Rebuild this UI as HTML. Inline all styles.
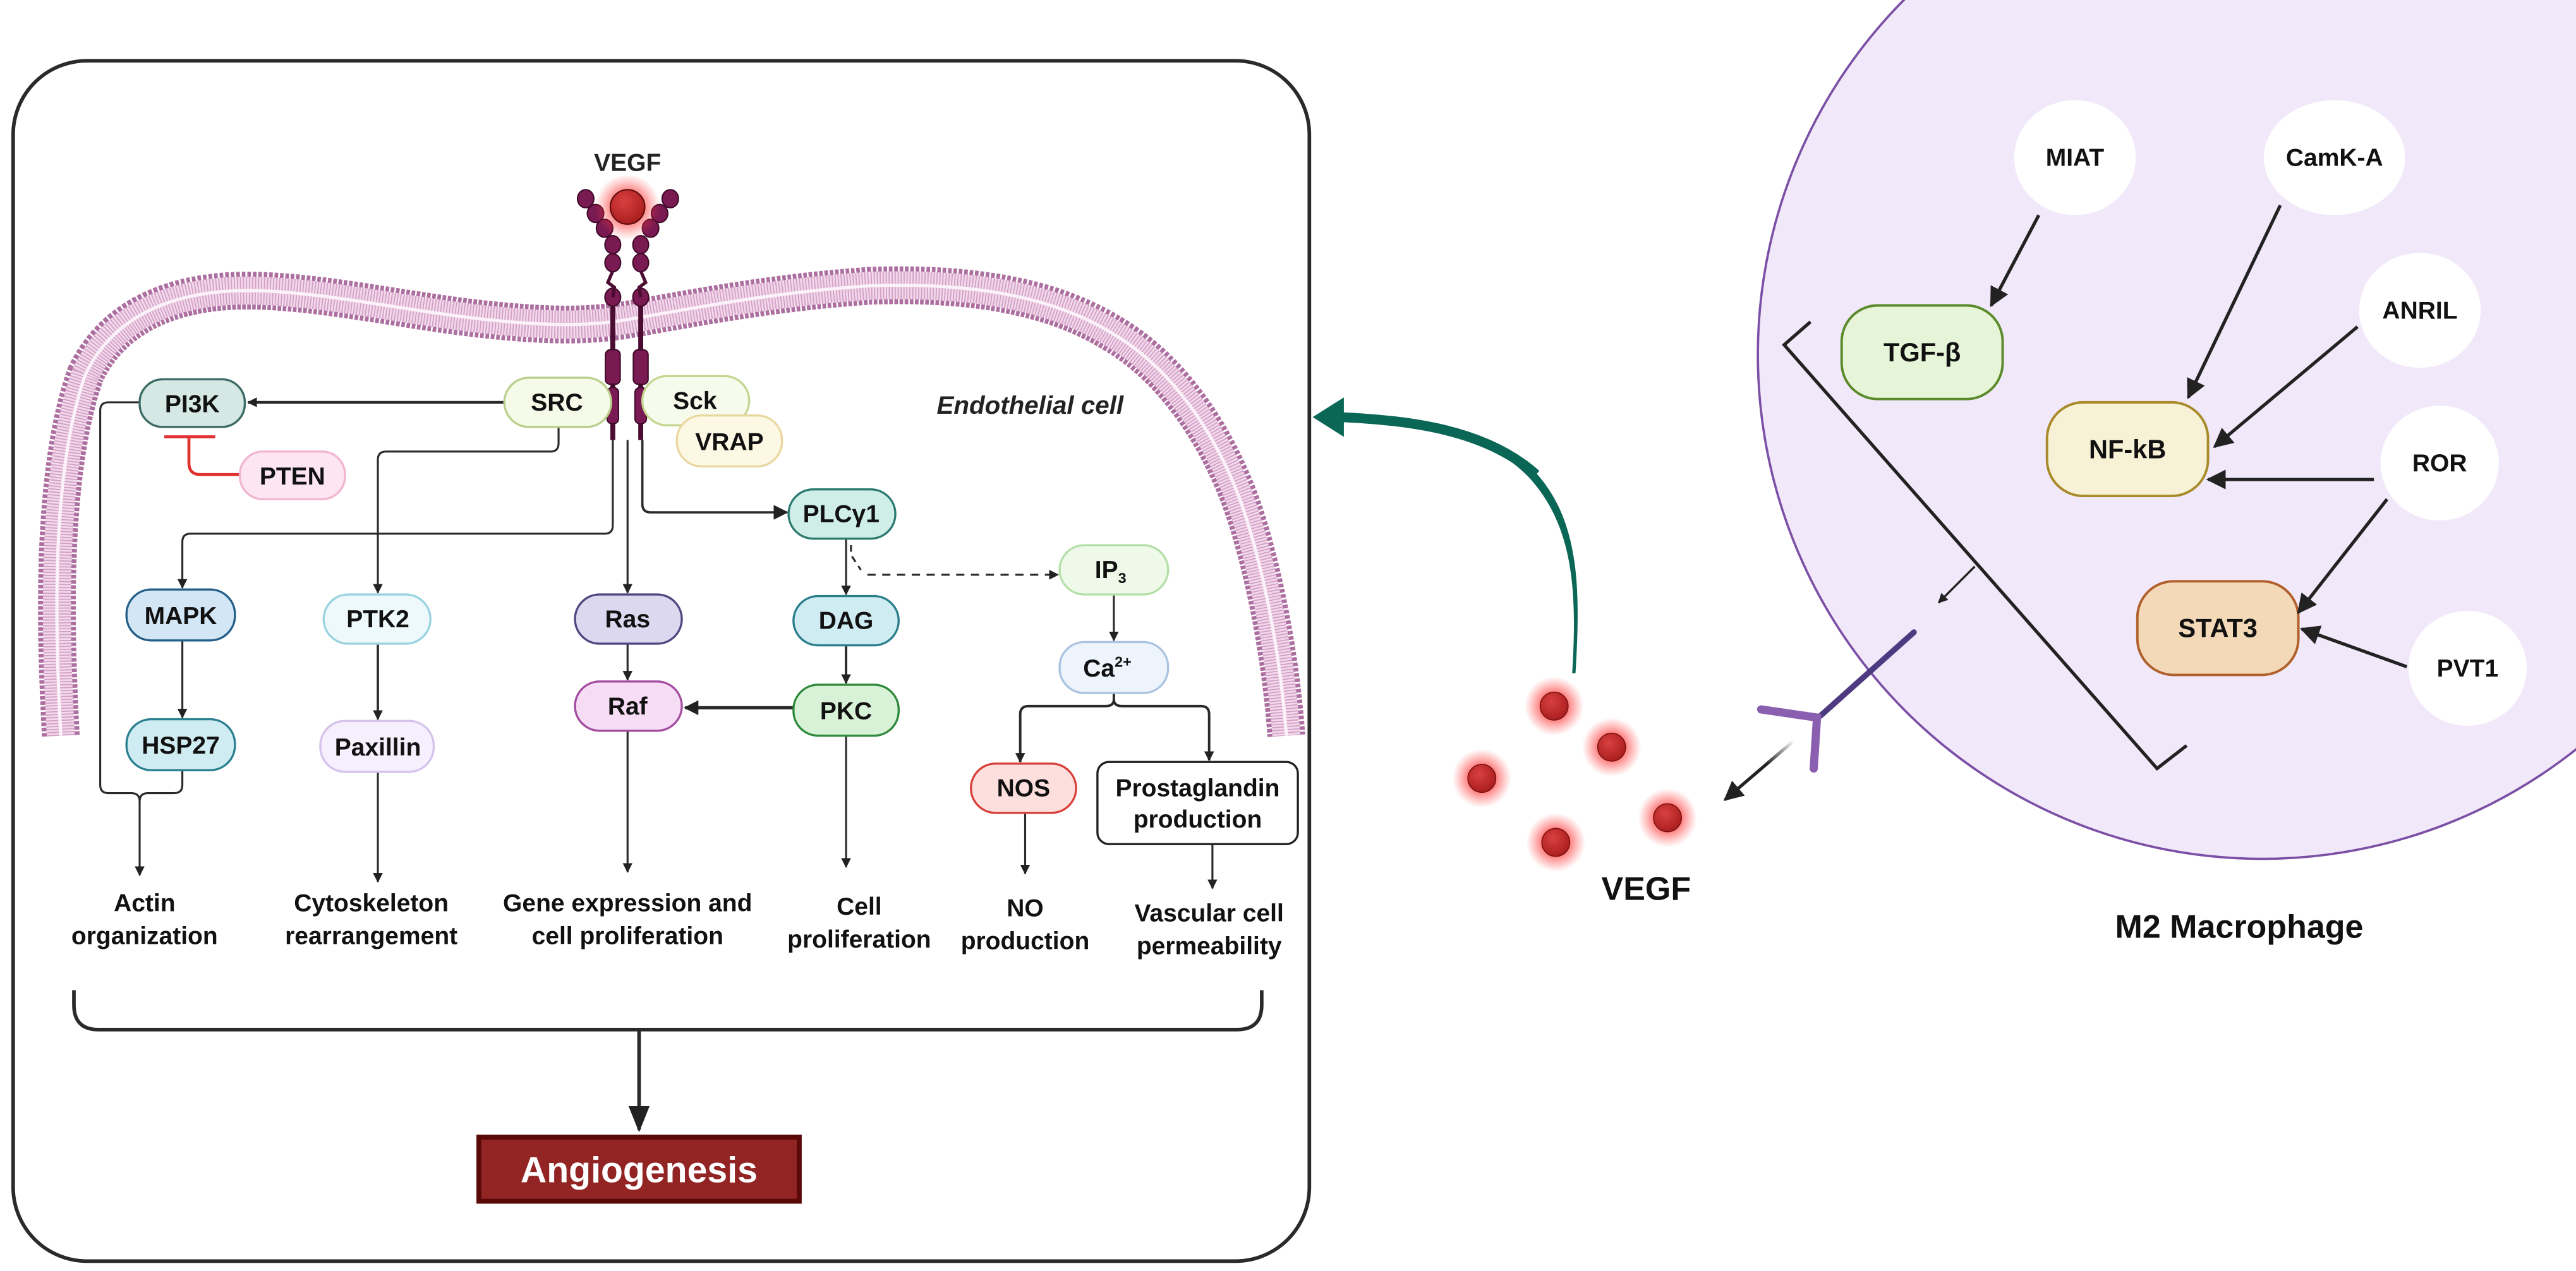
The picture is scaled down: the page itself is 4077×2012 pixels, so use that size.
<!DOCTYPE html>
<html><head><meta charset="utf-8"><style>
html,body{margin:0;padding:0;background:#fff;}
svg{display:block;}
text{font-family:"Liberation Sans",sans-serif;}
</style></head><body>
<svg width="4077" height="2012" viewBox="0 0 1568 774" preserveAspectRatio="none" xmlns="http://www.w3.org/2000/svg">
<defs>
<marker id="a" viewBox="0 0 10 10" refX="9" refY="5" markerWidth="6" markerHeight="6" markerUnits="userSpaceOnUse" orient="auto"><path d="M0,0 L10,5 L0,10 z" fill="#222"/></marker>
<marker id="ab" viewBox="0 0 10 10" refX="9" refY="5" markerWidth="9" markerHeight="9" markerUnits="userSpaceOnUse" orient="auto"><path d="M0,0 L10,5 L0,10 z" fill="#222"/></marker>
<marker id="ar" viewBox="0 0 10 10" refX="9" refY="5" markerWidth="12" markerHeight="12" markerUnits="userSpaceOnUse" orient="auto"><path d="M0,0 L10,5 L0,10 z" fill="#222"/></marker>
<marker id="abig" viewBox="0 0 10 10" refX="9" refY="5" markerWidth="16" markerHeight="16" markerUnits="userSpaceOnUse" orient="auto"><path d="M0,1 L10,5 L0,9 z" fill="#222"/></marker>
<radialGradient id="glow"><stop offset="0.45" stop-color="#ff2020" stop-opacity="0.6"/><stop offset="1" stop-color="#ff4040" stop-opacity="0"/></radialGradient>
<radialGradient id="ball" cx="0.4" cy="0.35" r="0.7"><stop offset="0" stop-color="#d94040"/><stop offset="1" stop-color="#a81c1c"/></radialGradient>
<linearGradient id="fade" x1="1" y1="0" x2="0" y2="1"><stop offset="0" stop-color="#222" stop-opacity="0"/><stop offset="0.4" stop-color="#222"/></linearGradient>
</defs>

<rect x="8" y="37" width="789" height="731" rx="45" fill="#fff" stroke="#2a2a2a" stroke-width="2.2"/>

<g fill="none">
<path d="M37,448 C34,390 30,290 52,228 C70,190 110,176 155,177 C200,178 250,190 300,195 C340,199 360,198 380,195 C420,188 470,178 530,174 C590,172 640,180 677,203 C715,225 745,270 760,320 C775,370 781,420 783,448" stroke="#ad6ea0" stroke-width="23" stroke-dasharray="2.2 1"/>
<path d="M37,448 C34,390 30,290 52,228 C70,190 110,176 155,177 C200,178 250,190 300,195 C340,199 360,198 380,195 C420,188 470,178 530,174 C590,172 640,180 677,203 C715,225 745,270 760,320 C775,370 781,420 783,448" stroke="#f1d9ea" stroke-width="17"/>
<path d="M37,448 C34,390 30,290 52,228 C70,190 110,176 155,177 C200,178 250,190 300,195 C340,199 360,198 380,195 C420,188 470,178 530,174 C590,172 640,180 677,203 C715,225 745,270 760,320 C775,370 781,420 783,448" stroke="#d49fc7" stroke-width="17" stroke-dasharray="0.7 1.1"/>
<path d="M37,448 C34,390 30,290 52,228 C70,190 110,176 155,177 C200,178 250,190 300,195 C340,199 360,198 380,195 C420,188 470,178 530,174 C590,172 640,180 677,203 C715,225 745,270 760,320 C775,370 781,420 783,448" stroke="#fbf1f8" stroke-width="2"/>
</g>

<text x="382" y="104" font-size="15" font-weight="bold" text-anchor="middle" fill="#222">VEGF</text>
<g fill="#7a1a52" stroke="#3e0a28" stroke-width="0.8">
<line x1="373" y1="180" x2="373" y2="268" stroke="#4a0c30" stroke-width="3"/>
<line x1="390" y1="180" x2="390" y2="268" stroke="#4a0c30" stroke-width="3"/>
<rect x="368.5" y="213" width="9" height="21" rx="3"/>
<rect x="385.5" y="213" width="9" height="21" rx="3"/>
<rect x="369.5" y="236" width="7" height="22" rx="3"/>
<rect x="386.5" y="236" width="7" height="22" rx="3"/>
<ellipse cx="356.5" cy="121" rx="5" ry="5.5"/><ellipse cx="362.5" cy="130" rx="5" ry="5.5"/><ellipse cx="368" cy="139" rx="5" ry="5.5"/><ellipse cx="373" cy="149" rx="4.8" ry="5.5"/><ellipse cx="373" cy="160" rx="4.8" ry="5.5"/><ellipse cx="373" cy="181" rx="4.8" ry="5.5"/>
<ellipse cx="408" cy="121" rx="5" ry="5.5"/><ellipse cx="401.5" cy="130" rx="5" ry="5.5"/><ellipse cx="396" cy="139" rx="5" ry="5.5"/><ellipse cx="390" cy="149" rx="4.8" ry="5.5"/><ellipse cx="390" cy="160" rx="4.8" ry="5.5"/><ellipse cx="390" cy="181" rx="4.8" ry="5.5"/>
<path d="M373,165 L370,172 L374,175 L373,181" fill="none" stroke="#4a0c30" stroke-width="2"/>
<path d="M390,165 L393,172 L389,175 L390,181" fill="none" stroke="#4a0c30" stroke-width="2"/>
</g>
<circle cx="382" cy="126" r="20" fill="url(#glow)"/>
<circle cx="382" cy="126" r="10.5" fill="url(#ball)" stroke="#5a0a0a" stroke-width="0.8"/>

<text x="627" y="252" font-size="15.5" font-style="italic" font-weight="bold" text-anchor="middle" fill="#222">Endothelial cell</text>

<g fill="none" stroke="#2a2a2a" stroke-width="1.2">
<line x1="307" y1="245" x2="151" y2="245" stroke-width="1.6" marker-end="url(#a)"/>
<path d="M85,245 H66 Q61,245 61,250 V478 Q61,483 66,483 H80 Q85,483 85,488 V533" marker-end="url(#a)"/>
<path d="M111,469 V478 Q111,483 106,483 H90 Q85,483 85,488"/>
<path d="M340,260 V270 Q340,275 335,275 H235 Q230,275 230,280 V361" marker-end="url(#a)"/>
<path d="M373,268 V320 Q373,325 368,325 H116 Q111,325 111,330 V358" marker-end="url(#a)"/>
<line x1="382" y1="268" x2="382" y2="361" marker-end="url(#a)"/>
<path d="M391,268 V307 Q391,312 396,312 H479" stroke-width="1.4" marker-end="url(#ab)"/>
<line x1="515" y1="328" x2="515" y2="362" marker-end="url(#a)"/>
<path d="M518,332 V338 L524,347" stroke-dasharray="4 3"/>
<line x1="528" y1="350" x2="644" y2="350" stroke-dasharray="5 4" marker-end="url(#a)"/>
<line x1="678" y1="362" x2="678" y2="390" marker-end="url(#a)"/>
<line x1="515" y1="393" x2="515" y2="416" stroke-width="1.5" marker-end="url(#a)"/>
<line x1="483" y1="431" x2="417" y2="431" stroke-width="2" marker-end="url(#ab)"/>
<line x1="382" y1="392" x2="382" y2="414" marker-end="url(#a)"/>
<line x1="111" y1="390" x2="111" y2="437" marker-end="url(#a)"/>
<line x1="230" y1="392" x2="230" y2="438" stroke-width="1.4" marker-end="url(#a)"/>
<path d="M678,422 V426 Q678,430 673,430 H626 Q621,430 621,435 V464" stroke-width="1.5" marker-end="url(#a)"/>
<path d="M678,426 Q678,430 683,430 H731 Q736,430 736,435 V463" stroke-width="1.5" marker-end="url(#a)"/>
<line x1="230" y1="470" x2="230" y2="537" marker-end="url(#a)"/>
<line x1="382" y1="445" x2="382" y2="531" marker-end="url(#a)"/>
<line x1="515" y1="448" x2="515" y2="528" marker-end="url(#a)"/>
<line x1="624" y1="495" x2="624" y2="532" marker-end="url(#a)"/>
<line x1="738" y1="514" x2="738" y2="541" marker-end="url(#a)"/>
<path d="M45,603 V612 Q45,627 60,627 H753 Q768,627 768,612 V603" stroke-width="2.2"/>
<line x1="389" y1="627" x2="389" y2="688" stroke-width="2.2" marker-end="url(#abig)"/>
</g>
<path d="M146,289 H122 Q115,289 115,282 V266 M100,266 H131" fill="none" stroke="#e03030" stroke-width="1.8"/>

<g font-size="15" font-weight="bold" text-anchor="middle" fill="#111" stroke-width="1.3">
<rect x="85" y="231" width="64" height="29" rx="14" fill="#d5e8e4" stroke="#3c6b66"/><text x="117" y="251">PI3K</text>
<rect x="307" y="230" width="65" height="30" rx="15" fill="#f6fae8" stroke="#b9cf8c"/><text x="339" y="250">SRC</text>
<rect x="391" y="229" width="65" height="30" rx="15" fill="#f7fbec" stroke="#c4d68f"/><text x="423" y="249">Sck</text>
<rect x="412" y="253" width="64" height="31" rx="15" fill="#fdf8e4" stroke="#e8d8a0"/><text x="444" y="274">VRAP</text>
<rect x="146" y="275" width="64" height="29" rx="14" fill="#fde6f1" stroke="#f2b5d0"/><text x="178" y="295">PTEN</text>
<rect x="480" y="298" width="65" height="30" rx="15" fill="#cfeee8" stroke="#2b7a70"/><text x="512" y="318">PLCγ1</text>
<rect x="645" y="332" width="66" height="30" rx="15" fill="#eef9ea" stroke="#b4e0a8"/><text x="676" y="352">IP<tspan font-size="9" dy="3">3</tspan></text>
<rect x="77" y="359" width="66" height="31" rx="15" fill="#d3e6f5" stroke="#245f8a"/><text x="110" y="380">MAPK</text>
<rect x="197" y="362" width="65" height="30" rx="15" fill="#eef9fb" stroke="#9ad3e0"/><text x="230" y="382">PTK2</text>
<rect x="350" y="362" width="65" height="30" rx="15" fill="#dcd8ef" stroke="#4e4880"/><text x="382" y="382">Ras</text>
<rect x="483" y="363" width="64" height="30" rx="15" fill="#cfecf3" stroke="#2a7d8a"/><text x="515" y="383">DAG</text>
<rect x="645" y="391" width="66" height="31" rx="15" fill="#edf4fb" stroke="#aac3e0"/><text x="674" y="412">Ca<tspan font-size="9" dy="-6">2+</tspan></text>
<rect x="350" y="415" width="65" height="30" rx="15" fill="#f6dcf4" stroke="#a34ca0"/><text x="382" y="435">Raf</text>
<rect x="483" y="417" width="64" height="31" rx="15" fill="#d8f2d8" stroke="#2e8a3a"/><text x="515" y="438">PKC</text>
<rect x="77" y="438" width="66" height="31" rx="15" fill="#d0ecf3" stroke="#2a8090"/><text x="110" y="459">HSP27</text>
<rect x="195" y="439" width="69" height="31" rx="15" fill="#f6effd" stroke="#d5c2ec"/><text x="230" y="460">Paxillin</text>
<rect x="591" y="465" width="64" height="30" rx="15" fill="#fde0de" stroke="#d8403a"/><text x="623" y="485">NOS</text>
<rect x="668" y="464" width="122" height="50" rx="7" fill="#fff" stroke="#222"/><text x="729" y="485">Prostaglandin</text><text x="729" y="504">production</text>
</g>

<g font-size="15" font-weight="bold" text-anchor="middle" fill="#111">
<text x="88" y="555">Actin</text><text x="88" y="575">organization</text>
<text x="226" y="555">Cytoskeleton</text><text x="226" y="575">rearrangement</text>
<text x="382" y="555">Gene expression and</text><text x="382" y="575">cell proliferation</text>
<text x="523" y="557">Cell</text><text x="523" y="577">proliferation</text>
<text x="624" y="558">NO</text><text x="624" y="578">production</text>
<text x="736" y="561">Vascular cell</text><text x="736" y="581">permeability</text>
</g>

<rect x="290" y="691" width="198" height="42" fill="#5a0808"/>
<rect x="293" y="694" width="192" height="36" fill="#922424"/>
<text x="389" y="720" font-size="22" font-weight="bold" text-anchor="middle" fill="#fff">Angiogenesis</text>

<circle cx="1377" cy="216" r="307" fill="#f1e8fa" stroke="#7b4fa5" stroke-width="1.4"/>
<g fill="#fff">
<ellipse cx="1263" cy="96" rx="37" ry="35"/>
<ellipse cx="1421" cy="96" rx="43" ry="35"/>
<ellipse cx="1473" cy="189" rx="37" ry="35"/>
<ellipse cx="1485" cy="282" rx="36" ry="35"/>
<ellipse cx="1502" cy="407" rx="36" ry="35"/>
</g>
<g font-size="15" font-weight="bold" text-anchor="middle" fill="#111">
<text x="1263" y="101">MIAT</text>
<text x="1421" y="101">CamK-A</text>
<text x="1473" y="194">ANRIL</text>
<text x="1485" y="287">ROR</text>
<text x="1502" y="412">PVT1</text>
</g>
<g stroke-width="1.5" font-size="16" font-weight="bold" text-anchor="middle" fill="#111">
<rect x="1121" y="186" width="98" height="57" rx="22" fill="#e6f4d8" stroke="#5a8a2a"/><text x="1170" y="220">TGF-β</text>
<rect x="1246" y="245" width="98" height="57" rx="22" fill="#f7f2d6" stroke="#a88a2a"/><text x="1295" y="279">NF-kB</text>
<rect x="1301" y="354" width="98" height="57" rx="22" fill="#f3d9b8" stroke="#b0602a"/><text x="1350" y="388">STAT3</text>
</g>
<g stroke="#222" stroke-width="2" fill="none">
<line x1="1241" y1="131" x2="1212" y2="186" marker-end="url(#ar)"/>
<line x1="1388" y1="125" x2="1332" y2="242" marker-end="url(#ar)"/>
<line x1="1435" y1="199" x2="1348" y2="272" marker-end="url(#ar)"/>
<line x1="1445" y1="292" x2="1344" y2="292" marker-end="url(#ar)"/>
<line x1="1453" y1="304" x2="1399" y2="373" marker-end="url(#ar)"/>
<line x1="1465" y1="406" x2="1401" y2="383" marker-end="url(#ar)"/>
<polyline points="1102,196 1086,210 1313,468 1331,454" stroke-width="2"/>
<line x1="1202" y1="345" x2="1180" y2="367" stroke-width="1.3" marker-end="url(#a)"/>
</g>
<g stroke="#8b5fb0" stroke-width="5" fill="none" stroke-linecap="round">
<line x1="1165" y1="385" x2="1108" y2="436" stroke="#4e3a80" stroke-width="3.5"/>
<path d="M1072,432 L1106,437 L1104,468"/>
</g>
<line x1="1092" y1="451" x2="1050" y2="487" stroke="url(#fade)" stroke-width="2" marker-end="url(#ar)"/>

<g>
<circle cx="946" cy="430" r="18" fill="url(#glow)"/><circle cx="946" cy="430" r="8.5" fill="url(#ball)" stroke="#7a1010" stroke-width="0.6"/>
<circle cx="981" cy="455" r="18" fill="url(#glow)"/><circle cx="981" cy="455" r="8.5" fill="url(#ball)" stroke="#7a1010" stroke-width="0.6"/>
<circle cx="902" cy="474" r="18" fill="url(#glow)"/><circle cx="902" cy="474" r="8.5" fill="url(#ball)" stroke="#7a1010" stroke-width="0.6"/>
<circle cx="1015" cy="498" r="18" fill="url(#glow)"/><circle cx="1015" cy="498" r="8.5" fill="url(#ball)" stroke="#7a1010" stroke-width="0.6"/>
<circle cx="947" cy="513" r="18" fill="url(#glow)"/><circle cx="947" cy="513" r="8.5" fill="url(#ball)" stroke="#7a1010" stroke-width="0.6"/>
</g>
<text x="1002" y="548" font-size="20" font-weight="bold" text-anchor="middle" fill="#111">VEGF</text>
<text x="1363" y="571" font-size="20" font-weight="bold" text-anchor="middle" fill="#111">M2 Macrophage</text>

<path d="M957,410 C960,360 958,320 930,290 C905,265 870,258 815,254 L815,251 C870,254 910,262 935,288 C962,318 962,360 959,410 z" fill="#0a6655"/>
<path d="M815,254 C860,256 905,262 935,289" fill="none" stroke="#0a6655" stroke-width="6"/>
<path d="M799,254 L818,242 L818,266 z" fill="#0a6655"/>
</svg>
</body></html>
